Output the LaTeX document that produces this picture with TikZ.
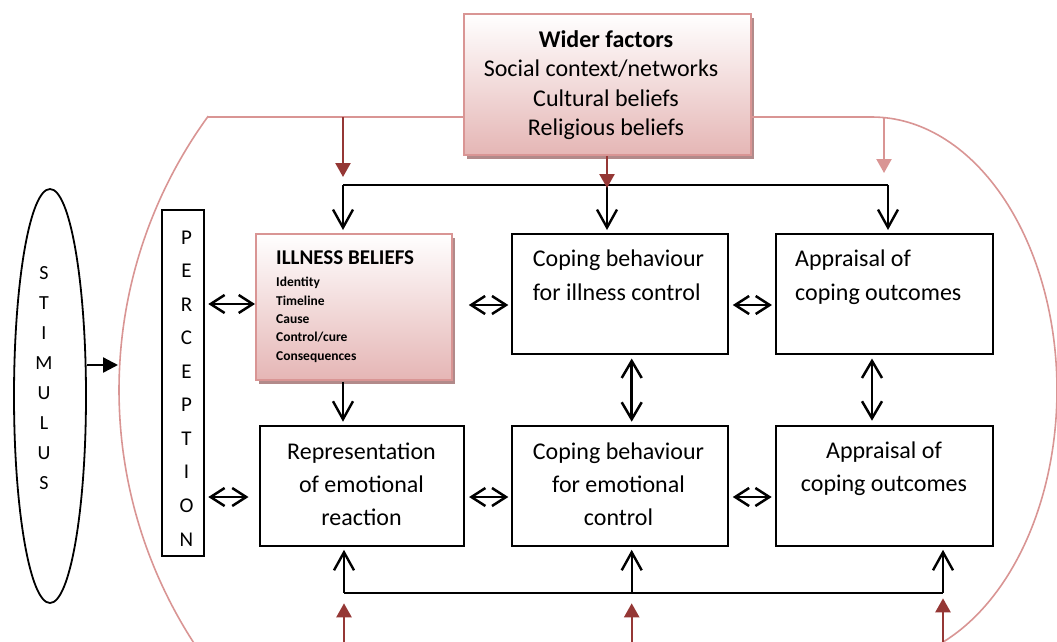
\documentclass[tikz,border=0pt]{standalone}
\usepackage{fontspec}
\setmainfont{Carlito}
\usetikzlibrary{arrows.meta,shapes.geometric,shadows}
\definecolor{rosebord}{RGB}{217,149,148}
\definecolor{rosefill}{RGB}{229,182,181}
\definecolor{roseshade}{RGB}{178,138,138}
\definecolor{brick}{RGB}{149,55,53}
\begin{document}
\begin{tikzpicture}[x=1pt,y=-1pt,
  >={Straight Barb[length=18pt,width=20pt]},
  frame/.style={draw, line width=1.8pt, inner sep=0pt, anchor=north west},
  rosebox/.style={draw=rosebord, line width=1.8pt, inner sep=0pt, anchor=north west,
     top color=white, bottom color=rosefill,
     drop shadow={shadow xshift=3.5pt, shadow yshift=-4pt, fill=roseshade, opacity=1}},
  link/.style={line width=2.4pt},
  twoway/.style={line width=2.5pt, {Straight Barb[length=14pt,width=18pt]}-{Straight Barb[length=14pt,width=18pt]}},
  twowayv/.style={line width=2.5pt, {Straight Barb[length=17pt,width=20pt]}-{Straight Barb[length=17pt,width=20pt]}},
  feed/.style={line width=2.4pt, draw=brick, -{Triangle[length=14pt,width=15pt]}},
  feedlight/.style={line width=2.2pt, draw=rosebord, -{Triangle[length=14pt,width=15pt]}},
  outline/.style={draw=rosebord, line width=1.6pt},
  txt/.style={inner sep=0pt, anchor=base, font=\fontsize{24}{29}\selectfont},
  txtl/.style={txt, anchor=base west},
  head/.style={inner sep=0pt, anchor=base west, font=\fontsize{21}{25}\selectfont\bfseries},
  item/.style={inner sep=0pt, anchor=base west, font=\fontsize{13.5}{16}\selectfont\bfseries},
  letter/.style={inner sep=0pt, anchor=base}
]
\useasboundingbox (0,0) rectangle (1057,641);
\begin{scope}
\clip (0,0) rectangle (1057,641);

% surrounding outline of the wider context
\coordinate (tl) at (208,117);
\coordinate (tr) at (872,117);
\draw[outline] plot[domain=145:216.1, samples=90] ({584+465*cos(\x)},{390+465*sin(\x)});
\draw[outline] plot[domain=-90:75, samples=120] ({872+185*cos(\x)},{390+273*sin(\x)});

% boxes
\node[rosebox, minimum width=287pt, minimum height=141pt] (wf) at (463,13) {};
\node[rosebox, minimum width=196pt, minimum height=146pt] (ib) at (255,233) {};
\node[frame, minimum width=216pt, minimum height=120pt] (cbi) at (511,233) {};
\node[frame, minimum width=217pt, minimum height=120pt] (apt) at (775,233) {};
\node[frame, minimum width=204pt, minimum height=120pt] (rep) at (259,425) {};
\node[frame, minimum width=216pt, minimum height=120pt] (cbe) at (511,425) {};
\node[frame, minimum width=217pt, minimum height=120pt] (apb) at (775,425) {};
\node[frame, minimum width=42pt, minimum height=346pt] (per) at (161,209) {};
\node[draw, ellipse, line width=1.8pt, minimum width=72pt, minimum height=414pt, inner sep=0pt] (stim) at (50,396) {};

% pink line joining the wider factors to the outline
\draw[outline] (tl) -- (tl -| wf.west);
\draw[outline] (tr -| wf.east) -- (tr);

% top distribution bus
\coordinate (bl) at (343,185);
\coordinate (bm) at (607,185);
\coordinate (br) at (888,185);
\draw[link] (bl) -- (br);
\draw[link,->,shorten >=3pt] (bl) -- (bl |- ib.north);
\draw[link,->,shorten >=3pt] (bm) -- (bm |- cbi.north);
\draw[link,->,shorten >=3pt] (br) -- (br |- apt.north);

% influences of the wider factors
\coordinate (f1) at (343,117);
\coordinate (f1t) at (343,177);
\coordinate (f2t) at (607,188);
\coordinate (f3) at (884,117);
\coordinate (f3t) at (884,173);
\draw[feed] (f1) -- (f1t);
\draw[feed] (wf.south -| f2t) -- (f2t);
\draw[feedlight] (f3) -- (f3t);

% bottom distribution bus
\coordinate (ql) at (344,592.7);
\coordinate (qm) at (631.7,592.7);
\coordinate (qr) at (943,592.7);
\draw[link] (ql) -- (qr);
\draw[link,->,shorten >=3pt] (ql) -- (ql |- rep.south);
\draw[link,->,shorten >=3pt] (qm) -- (qm |- cbe.south);
\draw[link,->,shorten >=3pt] (qr) -- (qr |- apb.south);
\coordinate (g1) at (344,650);
\coordinate (g2) at (631.7,650);
\coordinate (g3) at (943,650);
\draw[feed] (g1) -- (344,603.3);
\draw[feed] (g2) -- (631.7,603.3);
\draw[feed] (g3) -- (943,598.3);

% two-way links between the stages
\coordinate (h1) at (0,304);
\coordinate (h2) at (0,305);
\coordinate (h3) at (0,497);
\draw[twoway,shorten <=3.5pt] (per.east |- h1) -- (ib.west |- h1);
\draw[twoway,shorten <=3.5pt,shorten >=10.5pt] (per.east |- h3) -- (rep.west |- h3);
\draw[twoway,shorten <=16pt,shorten >=2.7pt] (ib.east |- h2) -- (cbi.west |- h2);
\draw[twoway,shorten <=4pt,shorten >=3pt] (cbi.east |- h2) -- (apt.west |- h2);
\draw[twoway,shorten <=4.3pt,shorten >=2.7pt] (rep.east |- h3) -- (cbe.west |- h3);
\draw[twoway,shorten <=4pt,shorten >=3.3pt] (cbe.east |- h3) -- (apb.west |- h3);
\coordinate (v1) at (631.7,0);
\coordinate (v2) at (872,0);
\draw[twowayv,shorten <=3.7pt,shorten >=3.3pt] (cbi.south -| v1) -- (cbe.north -| v1);
\draw[twowayv,shorten <=3.7pt,shorten >=4.3pt] (apt.south -| v2) -- (apb.north -| v2);
\draw[link,->,shorten <=1pt,shorten >=3.3pt] (ib.south -| bl) -- (rep.north -| bl);

% stimulus entering the outline
\coordinate (sa) at (118,365);
\draw[link,-{Triangle[length=15pt,width=15pt]}] (stim.east |- sa) -- (sa);

% texts
\node[txt, font=\fontsize{24}{29}\selectfont\bfseries] (wf1) at (606,47) {Wider factors};
\node[txt] (wf2) at (601,76.5) {Social context/networks};
\node[txt] (wf3) at (606,106) {Cultural beliefs};
\node[txt] (wf4) at (606,135.5) {Religious beliefs};

\node[head] (ib0) at (276,264) {ILLNESS BELIEFS};
\node[item] (ib1) at (276,286.7) {Identity};
\node[item] (ib2) at (276,305) {Timeline};
\node[item] (ib3) at (276,323.3) {Cause};
\node[item] (ib4) at (276,341.6) {Control/cure};
\node[item] (ib5) at (276,360) {Consequences};

\node[txtl] (cbi1) at (532.7,266.7) {Coping behaviour};
\node[txtl] (cbi2) at (532.7,300.7) {for illness control};

\node[txtl] (apt1) at (795,266.5) {Appraisal of};
\node[txtl] (apt2) at (795,300.5) {coping outcomes};

\node[txt] (rep1) at (361.5,459.5) {Representation};
\node[txt] (rep2) at (361.5,492.3) {of emotional};
\node[txt] (rep3) at (361.5,525) {reaction};

\node[txt] (cbe1) at (618.5,459.5) {Coping behaviour};
\node[txt] (cbe2) at (618.5,492.3) {for emotional};
\node[txt] (cbe3) at (618.5,525) {control};

\node[txt] (apb1) at (884,458.5) {Appraisal of};
\node[txt] (apb2) at (884,491.7) {coping outcomes};

\foreach \l [count=\i] in {S,T,I,M,U,L,U,S}
  \node[letter, font=\fontsize{20}{24}\selectfont] (sl\i) at (44,{279.3+30*(\i-1)}) {\l};
\foreach \l [count=\i] in {P,E,R,C,E,P,T,I,O,N}
  \node[letter, font=\fontsize{21}{25}\selectfont] (pl\i) at (186.5,{244+33.56*(\i-1)}) {\l};
\end{scope}
\end{tikzpicture}
\end{document}
